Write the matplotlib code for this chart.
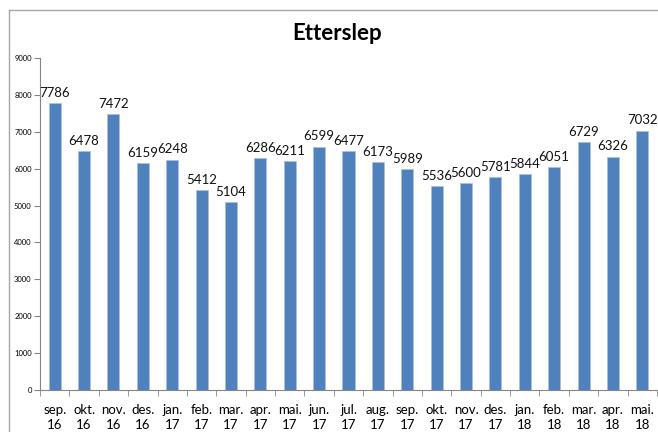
import matplotlib.pyplot as plt
from matplotlib.lines import Line2D

months = ['sep.\n16', 'okt.\n16', 'nov.\n16', 'des.\n16', 'jan.\n17', 'feb.\n17', 'mar.\n17',
          'apr.\n17', 'mai.\n17', 'jun.\n17', 'jul.\n17', 'aug.\n17', 'sep.\n17', 'okt.\n17',
          'nov.\n17', 'des.\n17', 'jan.\n18', 'feb.\n18', 'mar.\n18', 'apr.\n18', 'mai.\n18']
values = [7786, 6478, 7472, 6159, 6248, 5412, 5104, 6286, 6211, 6599, 6477,
          6173, 5989, 5536, 5600, 5781, 5844, 6051, 6729, 6326, 7032]
yticks = [0, 1000, 2000, 3000, 4000, 5000, 6000, 7000, 8000, 9000]

plt.rcParams['font.family'] = ['Lato', 'DejaVu Sans']

W, H = 658, 432
fig = plt.figure(figsize=(W / 100, H / 100), dpi=100)
ax = fig.add_axes([40 / W, (H - 390) / H, 617 / W, 332 / H])

x = range(len(values))
ax.bar(x, values, width=0.41, color='#4F81BD', edgecolor='#A9C0E0', linewidth=0.6)

for i, v in enumerate(values):
    ax.annotate(str(v), (i, v), xytext=(0, 3), textcoords='offset points',
                ha='center', va='bottom', fontsize=9.5, color='#111111')

ax.set_xlim(-0.5, len(values) - 0.5)
ax.set_ylim(0, 9000)
ax.set_yticks(yticks)
ax.set_yticklabels([str(t) for t in yticks], fontsize=5.5)
ax.set_xticks(list(x))
ax.set_xticklabels(months, fontsize=9.5, linespacing=1.35)
ax.set_xticks([i - 0.5 for i in range(len(values) + 1)], minor=True)
ax.tick_params(axis='x', which='major', length=0, pad=10)
ax.tick_params(axis='x', which='minor', length=4, color='#868686')
ax.tick_params(axis='y', length=4, color='#868686', pad=2)

for s in ['top', 'right']:
    ax.spines[s].set_visible(False)
for s in ['left', 'bottom']:
    ax.spines[s].set_color('#868686')
    ax.spines[s].set_linewidth(0.8)

fig.text(337 / W, 1 - 33 / H, 'Etterslep', ha='center', va='center',
         fontsize=16, fontweight='bold')

# chart area border
fig.add_artist(Line2D([9 / W, 1], [1 - 10 / H, 1 - 10 / H], color='#A6A6A6', lw=1))
fig.add_artist(Line2D([9 / W, 9 / W], [0, 1 - 10 / H], color='#A6A6A6', lw=1))

fig.savefig('out.png', dpi=100)
